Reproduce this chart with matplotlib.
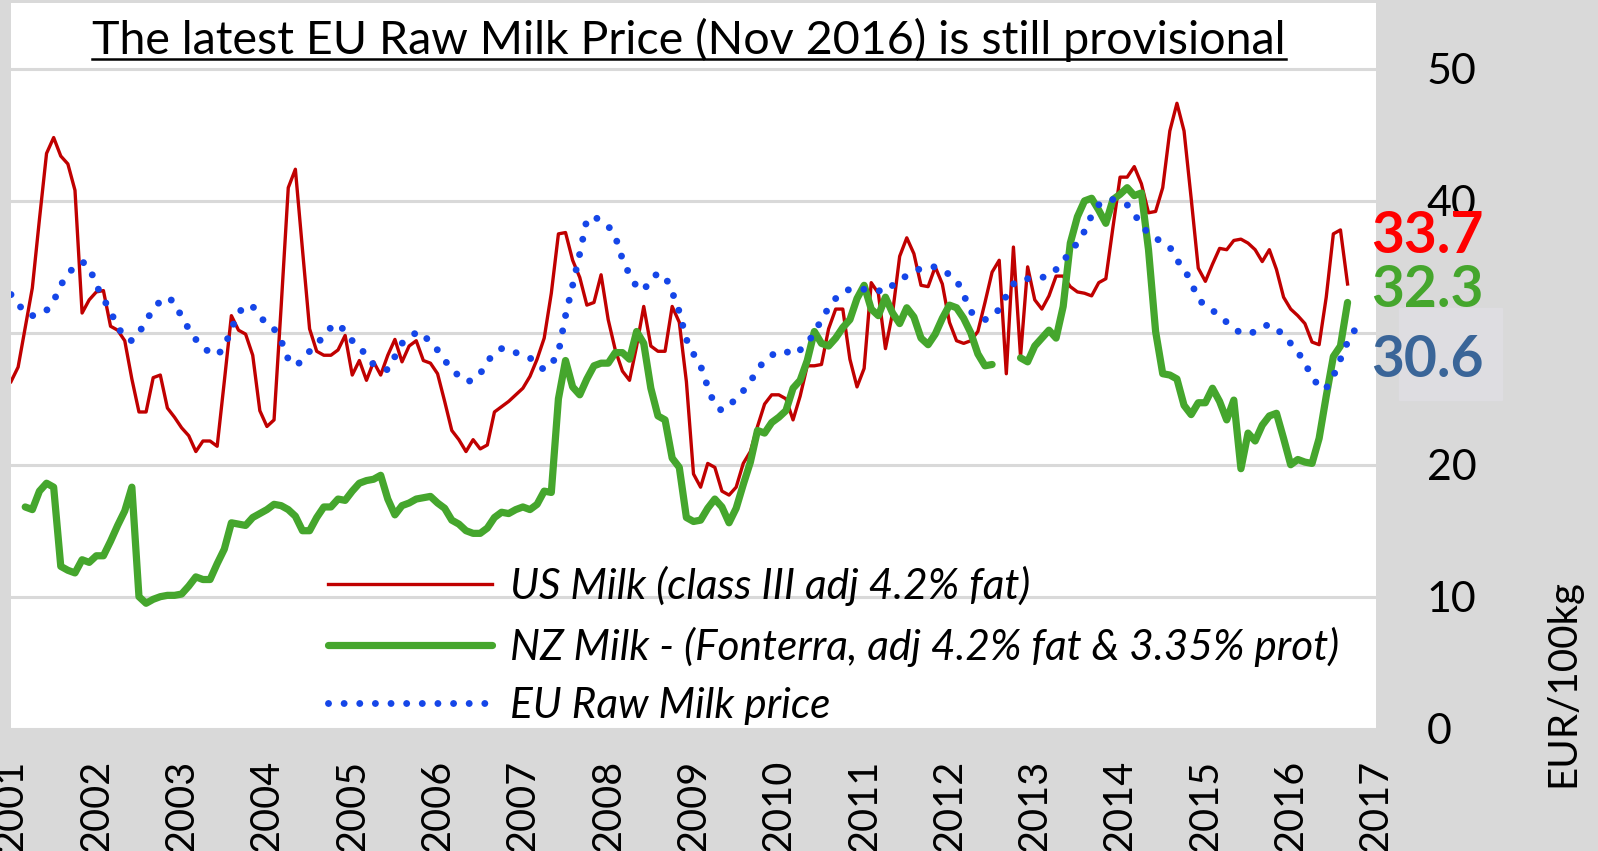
import numpy as np
import matplotlib.pyplot as plt
from matplotlib.lines import Line2D
from matplotlib.patches import Rectangle

plt.rcParams['font.family'] = ['Lato', 'DejaVu Sans']

# monthly prices in EUR/100kg, first value = Jan 2001
us_milk = [
    26.3, 27.4, 30.4, 33.4, 38.6, 43.6, 44.8, 43.4, 42.8, 40.8, 31.5, 32.5,  # 2001
    33.1, 33.2, 30.5, 30.2, 29.4, 26.5, 24.0, 24.0, 26.6, 26.8, 24.3, 23.6,  # 2002
    22.8, 22.2, 21.0, 21.8, 21.8, 21.4, 26.3, 31.3, 30.2, 29.9, 28.3, 24.1,  # 2003
    22.9, 23.4, 32.0, 41.0, 42.4, 36.3, 30.3, 28.6, 28.3, 28.3, 28.7, 29.8,  # 2004
    26.8, 27.9, 26.4, 27.8, 26.8, 28.3, 29.5, 27.8, 29.0, 29.4, 27.9, 27.7,  # 2005
    26.9, 24.8, 22.6, 21.9, 21.0, 21.9, 21.2, 21.5, 24.0, 24.4, 24.8, 25.3,  # 2006
    25.8, 26.7, 28.0, 29.6, 33.0, 37.5, 37.6, 35.5, 34.2, 32.1, 32.3, 34.4,  # 2007
    31.0, 28.7, 27.1, 26.4, 29.0, 32.0, 29.0, 28.6, 28.6, 32.0, 30.8, 26.3,  # 2008
    19.3, 18.3, 20.1, 19.8, 18.0, 17.7, 18.3, 20.1, 21.0, 22.9, 24.6, 25.3,  # 2009
    25.3, 25.0, 23.4, 25.2, 27.5, 27.5, 27.6, 30.3, 31.8, 31.8, 28.0, 25.9,  # 2010
    27.3, 33.8, 33.0, 28.8, 31.5, 35.8, 37.2, 36.0, 33.6, 33.5, 35.0, 33.7,  # 2011
    30.8, 29.4, 29.2, 29.4, 30.1, 32.3, 34.6, 35.5, 26.9, 36.5, 28.2, 35.0,  # 2012
    32.5, 31.8, 32.8, 34.3, 34.3, 33.5, 33.1, 33.0, 32.8, 33.8, 34.1, 38.0,  # 2013
    41.8, 41.8, 42.6, 41.3, 39.1, 39.2, 41.0, 45.3, 47.4, 45.3, 40.2, 34.9,  # 2014
    33.9, 35.2, 36.4, 36.3, 37.0, 37.1, 36.8, 36.3, 35.4, 36.3, 34.8, 32.7,  # 2015
    31.8, 31.3, 30.7, 29.3, 29.1, 32.7, 37.5, 37.8, 33.7,                    # 2016
]
nan = np.nan
nz_milk = [
    nan, nan, 16.8, 16.6, 18.0, 18.6, 18.3, 12.3, 12.0, 11.8, 12.8, 12.6,    # 2001
    13.1, 13.1, 14.2, 15.4, 16.5, 18.3, 10.0, 9.5, 9.8, 10.0, 10.1, 10.1,    # 2002
    10.2, 10.8, 11.5, 11.3, 11.3, 12.5, 13.6, 15.6, 15.5, 15.4, 16.0, 16.3,  # 2003
    16.6, 17.0, 16.9, 16.6, 16.1, 15.0, 15.0, 16.0, 16.8, 16.8, 17.4, 17.3,  # 2004
    18.0, 18.6, 18.8, 18.9, 19.2, 17.4, 16.2, 16.9, 17.1, 17.4, 17.5, 17.6,  # 2005
    17.1, 16.7, 15.8, 15.5, 15.0, 14.8, 14.8, 15.2, 16.0, 16.4, 16.3, 16.6,  # 2006
    16.8, 16.6, 17.0, 18.0, 17.9, 25.0, 27.9, 25.9, 25.3, 26.5, 27.5, 27.7,  # 2007
    27.7, 28.5, 28.5, 28.0, 30.1, 29.2, 25.8, 23.7, 23.4, 20.5, 19.8, 16.0,  # 2008
    15.7, 15.8, 16.7, 17.4, 16.8, 15.6, 16.7, 18.5, 20.2, 22.6, 22.4, 23.2,  # 2009
    23.6, 24.1, 25.8, 26.4, 27.9, 30.1, 29.2, 29.0, 29.6, 30.4, 31.0, 32.6,  # 2010
    33.6, 31.8, 31.3, 32.7, 31.5, 30.7, 31.9, 31.2, 29.6, 29.1, 29.9, 31.1,  # 2011
    32.1, 31.9, 31.1, 30.0, 28.4, 27.5, 27.6, nan, nan, nan, 28.1, 27.8,     # 2012
    29.0, 29.6, 30.2, 29.6, 32.0, 36.8, 38.8, 40.0, 40.2, 39.3, 38.3, 40.1,  # 2013
    40.5, 41.0, 40.4, 40.6, 36.3, 30.1, 26.9, 26.8, 26.5, 24.5, 23.8, 24.7,  # 2014
    24.7, 25.8, 24.8, 23.4, 24.9, 19.7, 22.4, 21.8, 23.0, 23.7, 23.9, 22.0,  # 2015
    20.0, 20.4, 20.2, 20.1, 22.0, 25.2, 28.2, 29.0, 32.3,                    # 2016
]
eu_milk = [
    32.9, 32.2, 31.5, 31.3, 31.4, 31.7, 32.4, 33.6, 34.5, 35.0, 35.4, 35.0,  # 2001
    33.6, 32.6, 31.6, 30.5, 29.6, 29.4, 30.0, 30.9, 31.8, 32.4, 32.7, 32.3,  # 2002
    31.2, 30.3, 29.5, 28.9, 28.5, 28.3, 28.9, 30.3, 31.5, 32.1, 32.0, 31.3,  # 2003
    30.6, 30.3, 29.4, 28.0, 27.5, 27.9, 28.6, 29.1, 29.8, 30.4, 30.7, 30.1,  # 2004
    29.4, 29.0, 28.2, 27.6, 27.3, 27.2, 28.2, 29.2, 29.7, 30.0, 30.0, 29.1,  # 2005
    28.7, 27.9, 27.3, 26.7, 26.3, 26.4, 26.9, 27.8, 28.5, 28.8, 28.8, 28.5,  # 2006
    28.3, 28.1, 27.6, 27.2, 27.6, 28.5, 31.3, 33.6, 36.0, 38.6, 38.8, 38.5,  # 2007
    38.1, 37.3, 35.6, 34.4, 33.5, 33.2, 34.1, 34.5, 34.3, 33.1, 31.6, 29.5,  # 2008
    28.4, 27.5, 25.9, 24.5, 24.1, 24.5, 25.0, 25.6, 26.3, 27.2, 27.9, 28.3,  # 2009
    28.6, 28.6, 28.3, 28.7, 29.2, 30.0, 31.0, 31.9, 32.6, 33.1, 33.3, 33.3,  # 2010
    33.3, 33.3, 33.2, 33.1, 33.6, 34.1, 34.3, 34.6, 34.9, 35.0, 35.0, 34.8,  # 2011
    34.4, 34.0, 32.9, 31.6, 31.2, 31.0, 31.2, 31.8, 32.8, 33.7, 34.1, 34.1,  # 2012
    34.1, 34.2, 34.3, 34.8, 35.4, 36.2, 36.8, 37.7, 38.9, 39.7, 40.1, 40.1,  # 2013
    39.9, 39.7, 39.0, 38.2, 37.5, 37.2, 36.8, 36.5, 35.5, 34.9, 33.8, 32.6,  # 2014
    32.0, 31.7, 31.3, 30.8, 30.3, 30.0, 29.9, 30.1, 30.5, 30.6, 30.4, 29.7,  # 2015
    29.2, 28.6, 27.6, 26.8, 25.8, 25.8, 26.7, 28.0, 29.3, 30.2, 30.6,        # 2016
]

years = list(range(2001, 2018))
yticks = [0, 10, 20, 30, 40, 50]
labels = ['US Milk (class III adj 4.2% fat)',
          'NZ Milk - (Fonterra, adj 4.2% fat & 3.35% prot)',
          'EU Raw Milk price']
title = 'The latest EU Raw Milk Price (Nov 2016) is still provisional'

RED, GREEN, BLUE = '#C00000', '#45A62D', '#1546E8'
W, H = 1598, 851

t_us = 2001 + np.arange(len(us_milk)) / 12
t_nz = 2001 + np.arange(len(nz_milk)) / 12
t_eu = 2001 + np.arange(len(eu_milk)) / 12

fig = plt.figure(figsize=(W / 100, H / 100), dpi=100, facecolor='#D9D9D9')
ax = fig.add_axes([11 / W, (H - 728.6) / H, (1376 - 11) / W, (728.6 - 3) / H])
ax.set_facecolor('white')

l_us, = ax.plot(t_us, us_milk, color=RED, lw=2.4, solid_joinstyle='round')
l_nz, = ax.plot(t_nz, nz_milk, color=GREEN, lw=5.2, solid_joinstyle='round',
                solid_capstyle='round')
l_eu, = ax.plot(t_eu, eu_milk, color=BLUE, lw=5.0, linestyle=(0, (0.001, 2.25)),
                dash_capstyle='round')

ax.set_xlim(2001, 2017)
ax.set_ylim(0, 55)
ax.set_xticks(years)
ax.set_yticks(yticks)
ax.yaxis.tick_right()
ax.grid(axis='y', color='#D9D9D9', lw=2.2)
ax.set_axisbelow(True)
for s in ax.spines.values():
    s.set_visible(False)
ax.tick_params(axis='y', length=0, labelsize=31, pad=36.5)
ax.tick_params(axis='x', length=0, labelsize=28.5, pad=22.5, labelrotation=90)

leg = ax.legend([l_us, l_nz, l_eu], labels, loc='upper left',
                bbox_to_anchor=(328 / W, 1 - 566 / H), bbox_transform=fig.transFigure,
                frameon=False, prop={'size': 30.5, 'style': 'italic'},
                handlelength=3.87, handletextpad=0.42, labelspacing=0.48,
                borderpad=0, borderaxespad=0)

# title, fitted to the reference width, with underline
tt = fig.text(689 / W, 1 - 54 / H, title, fontsize=30, ha='center', va='baseline')
fig.canvas.draw()
r = fig.canvas.get_renderer()
wpx = tt.get_window_extent(r).width
tt.set_fontsize(30 * 1194 / wpx)
fig.canvas.draw()
bb = tt.get_window_extent(r)
fig.add_artist(Line2D([bb.x0 / W, bb.x1 / W], [1 - 59 / H, 1 - 59 / H],
                      transform=fig.transFigure, color='black', lw=1.8))

fig.text(1563 / W, 1 - 683 / H, 'EUR/100kg', rotation=90, fontsize=29,
         ha='center', va='center')

# last values; the light box hides the "30" tick label as in the reference
fig.add_artist(Rectangle((1399 / W, 1 - 400 / H), 103 / W, 92 / H,
                         transform=fig.transFigure, color='#DEDDE1', zorder=2))
fig.text(1371 / W, 1 - 253 / H, '33.7', color='#FF0000', fontsize=41,
         fontweight='bold', ha='left', va='baseline', zorder=3)
fig.text(1371 / W, 1 - 307 / H, '32.3', color=GREEN, fontsize=41,
         fontweight='bold', ha='left', va='baseline', zorder=3)
fig.text(1371 / W, 1 - 377 / H, '30.6', color='#3A6598', fontsize=41,
         fontweight='bold', ha='left', va='baseline', zorder=3)

fig.savefig('out.png', dpi=100, facecolor=fig.get_facecolor())
